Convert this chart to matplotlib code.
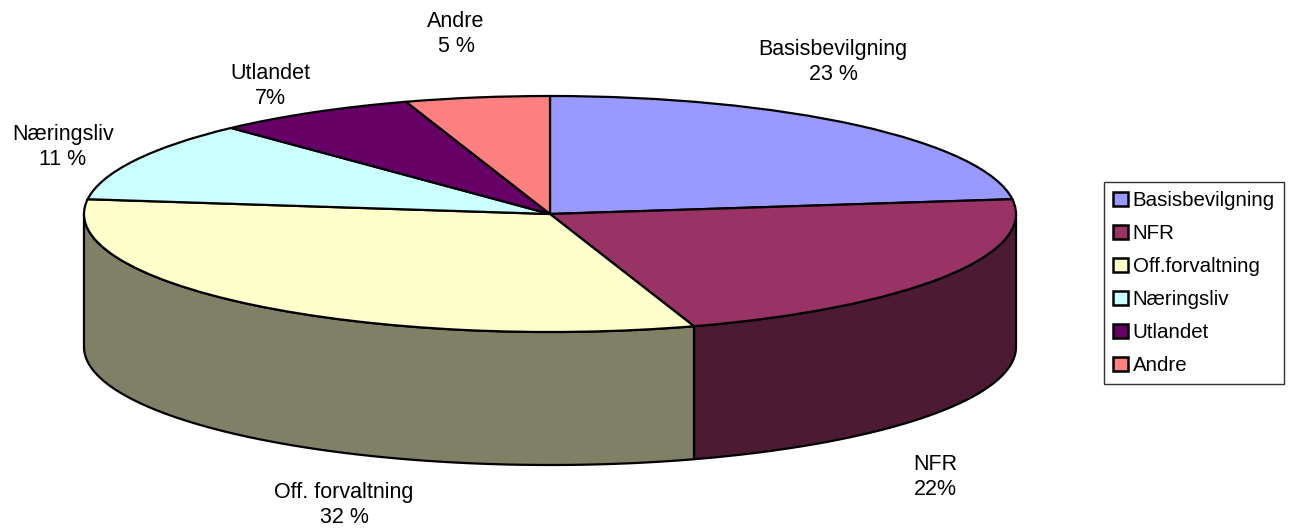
import numpy as np
import matplotlib
matplotlib.use("Agg")
import matplotlib.pyplot as plt
from matplotlib.patches import Polygon
from matplotlib import colors as mcolors

# data
categories = ['Basisbevilgning', 'NFR', 'Off.forvaltning', 'Næringsliv', 'Utlandet', 'Andre']
shares = [23, 22, 32, 11, 7, 5]
label_texts = ['Basisbevilgning\n23 %', 'NFR\n22%', 'Off. forvaltning\n32 %',
               'Næringsliv\n11 %', 'Utlandet\n7%', 'Andre\n5 %']
top_colors = ['#9999FF', '#993366', '#FFFFCC', '#CCFFFF', '#660066', '#FF8080']

plt.rcParams['font.family'] = ['Liberation Sans', 'DejaVu Sans']

W, H = 1297, 530
cx, cy = 550, 214       # centre of top ellipse (px)
rx, ry = 466, 118       # radii (px)
depth = 133 / ry        # wall height in data units
lw = 1.6

fig = plt.figure(figsize=(W / 100, H / 100), dpi=100)
ax = fig.add_axes([0, 0, 1, 1])

wedges, _ = ax.pie(shares, colors=top_colors, startangle=90, counterclock=False,
                   wedgeprops=dict(edgecolor='black', linewidth=lw))
for w in wedges:
    w.set_zorder(3)

ax.set_aspect('auto')
ax.set_xlim(-cx / rx, (W - cx) / rx)
ax.set_ylim((cy - H) / ry, cy / ry)
ax.axis('off')


def px(x, y):
    return (x - cx) / rx, (cy - y) / ry


# side walls of the front half
start = 90.0
for val, col in zip(shares, top_colors):
    hi = start
    lo = start - 360.0 * val / sum(shares)
    start = lo
    for k in (-1, 0, 1):
        a = max(lo, -180 + 360 * k)
        b = min(hi, 0 + 360 * k)
        if b - a <= 0:
            continue
        t = np.radians(np.linspace(b, a, 200))
        top = np.column_stack([np.cos(t), np.sin(t)])
        bot = np.column_stack([np.cos(t), np.sin(t) - depth])[::-1]
        side = np.array(mcolors.to_rgb(col)) * 0.5
        ax.add_patch(Polygon(np.vstack([top, bot]), closed=True, facecolor=side,
                             edgecolor='black', linewidth=lw, zorder=2,
                             joinstyle='round'))

# data labels
label_pos = [(833, 62), (935, 477), (344, 505), (63, 147), (270, 86), (456, 34)]
for txt, (x, y) in zip(label_texts, label_pos):
    ax.text(*px(x, y), txt, ha='center', va='center', fontsize=15.5,
            linespacing=1.2, multialignment='center')

leg = fig.legend(wedges, categories, loc='upper left',
                 bbox_to_anchor=(1104 / W, 1 - 182 / H), borderaxespad=0,
                 fontsize=14.8, frameon=True, fancybox=False, edgecolor='black',
                 handlelength=0.7, handleheight=0.7, handletextpad=0.25,
                 labelspacing=0.68, borderpad=0.45)
leg.get_frame().set_linewidth(1.0)
for h in leg.legend_handles:
    h.set_linewidth(1.8)

fig.savefig('out.png', dpi=100)
